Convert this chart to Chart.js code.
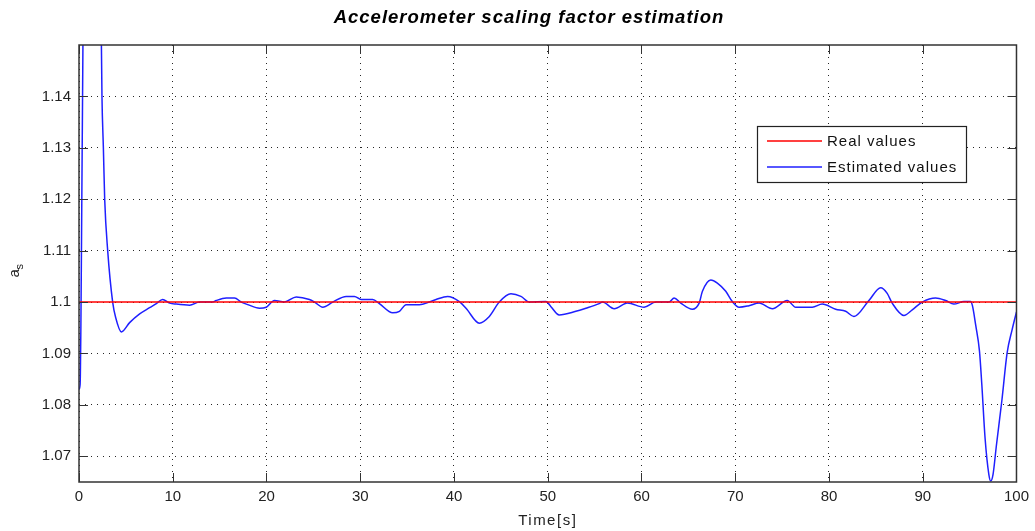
<!DOCTYPE html>
<html>
<head>
<meta charset="utf-8">
<script src="https://cdn.jsdelivr.net/npm/chart.js@4.4.1/dist/chart.umd.min.js"></script>
<style>
  html, body { margin: 0; padding: 0; background: #fff; }
  #wrap { width: 1035px; height: 531px; position: relative; }
</style>
</head>
<body>
<div id="wrap"><canvas id="myChart" width="1035" height="531"></canvas></div>
<script>
// time axis (s) for the estimated curve
let timeS = [
    0, 0.12, 0.2, 0.3, 0.4, 0.5, 1.0, 1.8, 2.3,
    2.39, 2.45, 2.60, 2.74, 3.06, 3.59, 3.91, 4.52,
    5.40, 6.47, 7.53, 8.25, 8.92, 9.67, 10.38, 11.80,
    12.86, 14.28, 14.64, 15.71, 16.59, 17.31, 18.01, 19.26, 19.97, 20.85,
    21.92, 23.17, 24.58, 25.12, 26.00, 27.07, 28.50, 29.38, 30.09, 31.33,
    32.04, 33.46, 34.18, 34.89, 36.31, 37.37, 38.09, 39.32, 40.57, 41.28,
    42.70, 43.77, 44.83, 46.08, 47.14, 48.03, 49.81, 50.34, 51.22, 53.00,
    54.07, 55.49, 55.84, 57.09, 58.50, 60.28, 61.53, 62.95, 63.48, 64.19,
    65.43, 66.15, 66.50, 67.39, 68.09, 68.99, 69.69, 70.41, 71.47, 72.54,
    73.96, 75.55, 76.45, 78.22, 79.28, 80.71, 81.78, 82.66, 84.26, 85.51,
    86.21, 86.74, 87.99, 88.88, 89.94, 91.37, 92.44, 93.32, 94.39, 95.10,
    95.30, 95.65, 96.05, 96.30, 96.65, 97.05, 97.25, 97.50, 97.85, 98.45, 99.00, 99.53, 100
];

let estimated = [
    1.083, 1.084, 1.095, 1.12, 1.145, 1.17, 1.25, 1.25, 1.17,
    1.15, 1.14, 1.13, 1.12, 1.11, 1.10, 1.097, 1.0942,
    1.096, 1.0977, 1.0989, 1.0997, 1.1005, 1.0998, 1.0996, 1.0994,
    1.1, 1.1, 1.1003, 1.1008, 1.1008, 1.1, 1.0995, 1.0988, 1.099, 1.1003,
    1.1, 1.101, 1.1005, 1.1, 1.099, 1.1, 1.1011, 1.1011, 1.1005, 1.1005,
    1.0997, 1.0979, 1.0982, 1.0995, 1.0995, 1.1, 1.1005, 1.1011, 1.1001, 1.0988,
    1.0959, 1.0972, 1.1, 1.1016, 1.1011, 1.1, 1.1001, 1.0991, 1.0975, 1.0982,
    1.0988, 1.0997, 1.1, 1.0987, 1.0998, 1.099, 1.1, 1.1, 1.1008, 1.0998,
    1.0986, 1.0998, 1.1021, 1.1043, 1.1037, 1.1021, 1.1001, 1.099, 1.0993, 1.0998,
    1.0987, 1.1003, 1.099, 1.099, 1.0996, 1.0986, 1.0982, 1.0972, 1.1003, 1.1028,
    1.1017, 1.0998, 1.0974, 1.0985, 1.1, 1.1008, 1.1003, 1.0996, 1.1001, 1.1001,
    1.0993, 1.0955, 1.0905, 1.084, 1.0735, 1.0665, 1.0652, 1.0665, 1.072, 1.081, 1.0901, 1.0946, 1.0981
];

let realTimes = [0, 100];
let realValues = [1.1, 1.1];

let xTicks = [0, 10, 20, 30, 40, 50, 60, 70, 80, 90, 100];
let yTicks = [1.07, 1.08, 1.09, 1.1, 1.11, 1.12, 1.13, 1.14];

const FONT = 'Arial, "Liberation Sans", sans-serif';

// MATLAB style box, inward ticks, legend, title and axis labels
const decor = {
    id: 'decor',
    afterDatasetsDraw(chart) {
        const ctx = chart.ctx;
        const a = chart.chartArea;
        const xs = chart.scales.x;
        const ys = chart.scales.y;
        ctx.save();
        ctx.strokeStyle = '#333';
        ctx.lineWidth = 1;
        ctx.beginPath();
        for (let t of xTicks) {
            let px = Math.round(xs.getPixelForValue(t)) + 0.5;
            ctx.moveTo(px, a.bottom); ctx.lineTo(px, a.bottom - 9);
            ctx.moveTo(px, a.top); ctx.lineTo(px, a.top + 9);
        }
        for (let t of yTicks) {
            let py = Math.round(ys.getPixelForValue(t)) + 0.5;
            ctx.moveTo(a.left, py); ctx.lineTo(a.left + 9, py);
            ctx.moveTo(a.right, py); ctx.lineTo(a.right - 9, py);
        }
        ctx.stroke();
        ctx.lineWidth = 1.5;
        ctx.strokeRect(a.left, a.top, a.right - a.left, a.bottom - a.top);

        // legend box
        const lx = 757, ly = 126, lw = 209, lh = 56;
        ctx.fillStyle = '#fff';
        ctx.fillRect(lx, ly, lw, lh);
        ctx.strokeStyle = '#222';
        ctx.lineWidth = 1.2;
        ctx.strokeRect(lx + 0.5, ly + 0.5, lw, lh);
        ctx.font = '15px ' + FONT;
        ctx.letterSpacing = '1px';
        ctx.textBaseline = 'middle';
        chart.data.datasets.forEach((ds, i) => {
            let y = ly + 15 + i * 26;
            ctx.strokeStyle = ds.borderColor;
            ctx.lineWidth = 1.3;
            ctx.beginPath();
            ctx.moveTo(lx + 10, y); ctx.lineTo(lx + 65, y);
            ctx.stroke();
            ctx.fillStyle = '#111';
            ctx.fillText(ds.label, lx + 70, y + 1);
        });

        // title and axis labels
        ctx.fillStyle = '#000';
        ctx.textAlign = 'center';
        ctx.textBaseline = 'alphabetic';
        ctx.font = 'italic bold 18.5px ' + FONT;
        ctx.fillText('Accelerometer scaling factor estimation', 529, 23);
        ctx.font = '15px ' + FONT;
        ctx.letterSpacing = '1.5px';
        ctx.fillStyle = '#222';
        ctx.fillText('Time[s]', (a.left + a.right) / 2, 525);
        ctx.letterSpacing = '0px';
        ctx.translate(19, (a.top + a.bottom) / 2 + 14);
        ctx.rotate(-Math.PI / 2);
        ctx.textAlign = 'left';
        ctx.font = '15px ' + FONT;
        ctx.fillText('a', 0, 0);
        ctx.font = '11px ' + FONT;
        ctx.fillText('s', 8, 4);
        ctx.restore();
    }
};

window.addEventListener("DOMContentLoaded", () => {
    const ctx = document.getElementById('myChart');

    new Chart(ctx, {
        type: 'line',
        data: {
            datasets: [{
                label: 'Real values',
                data: realTimes.map((t, i) => ({ x: t, y: realValues[i] })),
                borderColor: '#ff0000',
                borderWidth: 1.5,
                pointRadius: 0
            }, {
                label: 'Estimated values',
                data: timeS.map((t, i) => ({ x: t, y: estimated[i] })),
                borderColor: '#1f1fff',
                borderWidth: 1.5,
                pointRadius: 0,
                cubicInterpolationMode: 'monotone'
            }]
        },
        options: {
            responsive: false,
            animation: false,
            layout: { padding: { left: 0, top: 45, right: 17, bottom: 0 } },
            plugins: {
                legend: { display: false },
                tooltip: { enabled: false }
            },
            scales: {
                x: {
                    type: 'linear',
                    min: 0,
                    max: 100,
                    afterBuildTicks: (scale) => { scale.ticks = xTicks.map(v => ({ value: v })); },
                    afterFit: (scale) => { scale.height = 49; },
                    ticks: { color: '#222', font: { family: FONT, size: 15 }, padding: 6, maxRotation: 0 },
                    grid: { color: 'rgba(0,0,0,0.85)', drawTicks: false },
                    border: { display: false, dash: [1, 5] }
                },
                y: {
                    min: 1.065,
                    max: 1.15,
                    afterBuildTicks: (scale) => { scale.ticks = yTicks.map(v => ({ value: v })); },
                    afterFit: (scale) => { scale.width = 79; },
                    ticks: {
                        color: '#222',
                        font: { family: FONT, size: 15 },
                        padding: 8,
                        callback: (v) => String(Math.round(v * 100) / 100)
                    },
                    grid: { color: 'rgba(0,0,0,0.85)', drawTicks: false },
                    border: { display: false, dash: [1, 5] }
                }
            }
        },
        plugins: [decor]
    });
});
</script>
</body>
</html>
